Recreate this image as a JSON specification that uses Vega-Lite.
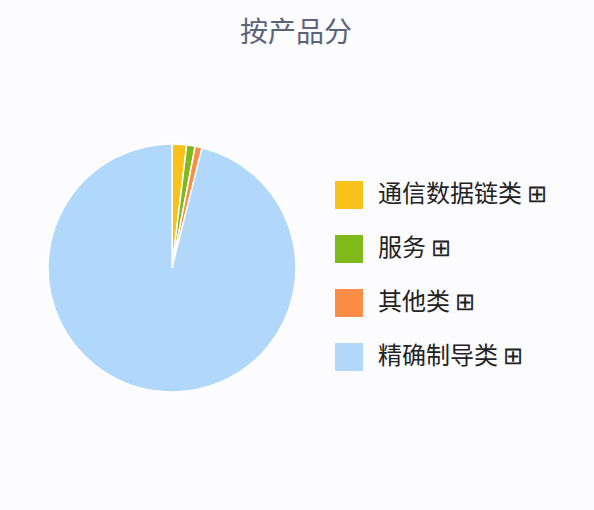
{
  "$schema": "https://vega.github.io/schema/vega-lite/v6.json",
  "width": 248,
  "height": 248,
  "padding": {"left": 45, "top": 20, "right": 10, "bottom": 110},
  "background": "#fcfcfe",
  "title": {
    "text": "按产品分",
    "fontSize": 28,
    "font": "Noto Sans CJK SC",
    "fontWeight": "normal",
    "color": "#5b6379",
    "anchor": "middle",
    "frame": "group",
    "dx": 124,
    "offset": 93
  },
  "config": {"view": {"stroke": null}},
  "data": {
    "values": [
      {"category": "通信数据链类", "share": 1.9, "order": 1},
      {"category": "服务", "share": 1.1, "order": 2},
      {"category": "其他类", "share": 0.9, "order": 3},
      {"category": "精确制导类", "share": 96.1, "order": 4}
    ]
  },
  "mark": {"type": "arc", "stroke": "white", "strokeWidth": 1.5},
  "encoding": {
    "theta": {"field": "share", "type": "quantitative", "stack": true},
    "order": {"field": "order", "type": "quantitative"},
    "color": {
      "field": "category",
      "type": "nominal",
      "sort": ["通信数据链类", "服务", "其他类", "精确制导类"],
      "scale": {
        "domain": ["通信数据链类", "服务", "其他类", "精确制导类"],
        "range": ["#f8c21b", "#7fba1a", "#fd8c47", "#b1d8fb"]
      },
      "legend": {
        "title": null,
        "orient": "right",
        "offset": 2,
        "padding": 37,
        "symbolType": "square",
        "symbolSize": 784,
        "symbolStrokeWidth": 0,
        "labelFontSize": 24,
        "labelFont": "Noto Sans CJK SC",
        "labelColor": "#222222",
        "labelOffset": 15,
        "labelLimit": 400,
        "rowPadding": 26,
        "labelExpr": "datum.label + ' ⊞'"
      }
    }
  }
}
